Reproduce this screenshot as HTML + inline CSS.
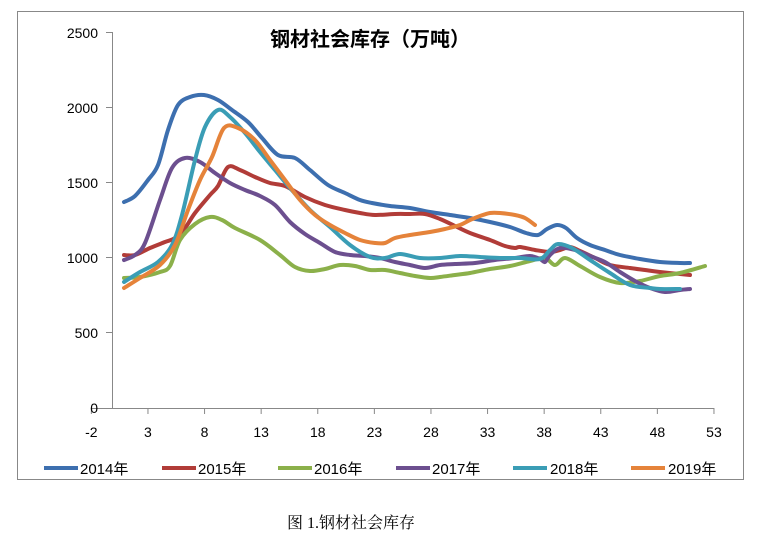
<!DOCTYPE html>
<html><head><meta charset="utf-8"><style>
body{margin:0;background:#fff;width:762px;height:536px;overflow:hidden}
svg{display:block}
</style></head><body>
<svg width="762" height="536" xmlns="http://www.w3.org/2000/svg" font-family="Liberation Sans, Noto Sans CJK SC, sans-serif">
<rect x="17.5" y="11.5" width="726" height="468" fill="#fff" stroke="#888" stroke-width="1"/>
<text x="270" y="46" font-size="20" font-weight="bold" font-family="Noto Sans CJK SC, sans-serif" fill="#000">钢材社会库存（万吨）</text>
<g stroke="#888" stroke-width="1" fill="none">
<line x1="112.5" y1="32" x2="112.5" y2="408"/>
<line x1="106" y1="32.5" x2="112" y2="32.5"/>
<line x1="106" y1="107.5" x2="112" y2="107.5"/>
<line x1="106" y1="182.5" x2="112" y2="182.5"/>
<line x1="106" y1="257.5" x2="112" y2="257.5"/>
<line x1="106" y1="332.5" x2="112" y2="332.5"/>
<line x1="92" y1="408.5" x2="714" y2="408.5"/>
<g id="t"></g>
</g>
<g font-size="14" fill="#000" text-anchor="end">
<text x="98" y="38">2500</text><text x="98" y="113">2000</text><text x="98" y="188">1500</text>
<text x="98" y="263">1000</text><text x="98" y="338">500</text><text x="98" y="413">0</text>
</g>
<g font-size="14" fill="#000" text-anchor="middle" id="xl"></g>
<g id="series" fill="none" stroke-width="4" stroke-linecap="round" stroke-linejoin="round"></g>
<g font-size="15" fill="#000">
<line x1="44" y1="468" x2="78" y2="468" stroke="#3d6faf" stroke-width="4"/><text x="80" y="474">2014年</text>
<line x1="162" y1="468" x2="196" y2="468" stroke="#b13c38" stroke-width="4"/><text x="198" y="474">2015年</text>
<line x1="278" y1="468" x2="312" y2="468" stroke="#8bb04a" stroke-width="4"/><text x="314" y="474">2016年</text>
<line x1="396" y1="468" x2="430" y2="468" stroke="#6c4f8f" stroke-width="4"/><text x="432" y="474">2017年</text>
<line x1="513" y1="468" x2="547" y2="468" stroke="#3a9db5" stroke-width="4"/><text x="550" y="474">2018年</text>
<line x1="631" y1="468" x2="665" y2="468" stroke="#e5833a" stroke-width="4"/><text x="668" y="474">2019年</text>
</g>
<text x="287" y="528" font-size="16" font-family="Liberation Serif, Noto Serif CJK SC, serif" fill="#000">图 1.钢材社会库存</text>
</svg>
<script>
var ns="http://www.w3.org/2000/svg";
var t=document.getElementById("t"),xl=document.getElementById("xl");
for(var v=-2;v<=53;v+=5){var x=114+(v)*11.32;
 var l=document.createElementNS(ns,"line");l.setAttribute("x1",x);l.setAttribute("x2",x);l.setAttribute("y1",408);l.setAttribute("y2",414);t.appendChild(l);
 var tx=document.createElementNS(ns,"text");tx.setAttribute("x",x);tx.setAttribute("y",437);tx.textContent=v;xl.appendChild(tx);}
var S=[
["#3d6faf",[[124,202],[135,196],[148,180],[158,165],[168,130],[178,105],[190,97],[204,95],[218,100],[232,110],[248,122],[262,138],[278,155],[295,158],[310,170],[328,185],[345,193],[360,200],[372,203],[390,206],[410,208],[430,212],[450,215],[470,218],[490,222],[510,227],[526,233],[538,235],[547,229],[557,225],[566,228],[577,238],[590,245],[605,250],[620,255],[640,259],[660,262],[680,263],[690,263]]],
["#b13c38",[[124,255],[135,255],[150,248],[165,242],[175,238],[185,228],[195,213],[210,195],[218,186],[228,167],[240,170],[255,177],[270,183],[285,186],[305,197],[325,205],[345,210],[360,213],[375,215],[395,214],[410,214],[425,214],[440,219],[455,226],[470,233],[490,240],[505,246],[515,248],[520,247],[535,250],[550,252],[560,250],[570,247],[580,251],[595,258],[610,265],[630,268],[645,270],[660,272],[690,275]]],
["#8bb04a",[[124,278],[140,277],[160,272],[170,266],[180,240],[195,224],[210,217],[222,220],[235,228],[260,240],[280,255],[295,267],[310,271],[325,269],[340,265],[355,266],[370,270],[385,270],[400,273],[415,276],[430,278],[440,277],[455,275],[470,273],[490,269],[510,266],[530,261],[545,258],[555,265],[565,258],[580,266],[600,277],[620,283],[640,281],[660,276],[680,273],[705,266]]],
["#6c4f8f",[[124,260],[135,255],[145,243],[160,200],[172,168],[185,158],[200,162],[215,173],[230,183],[245,190],[260,196],[275,205],[290,222],[305,234],[320,243],[335,252],[350,255],[365,256],[380,258],[395,262],[410,265],[425,268],[440,265],[455,264],[475,263],[495,260],[515,258],[530,256],[540,259],[545,262],[550,255],[560,248],[575,250],[590,256],[605,262],[620,272],[635,281],[650,288],[665,292],[680,290],[690,289]]],
["#3a9db5",[[124,282],[140,272],[158,262],[172,245],[182,215],[195,160],[205,127],[218,110],[230,117],[245,133],[260,152],[275,170],[290,188],[310,210],[330,227],[350,245],[370,257],[385,258],[400,254],[420,258],[440,258],[460,256],[480,257],[500,258],[520,258],[540,259],[550,250],[558,244],[572,248],[590,260],[610,273],[630,285],[650,288],[660,289],[680,289]]],
["#e5833a",[[124,288],[140,278],[160,265],[175,245],[188,210],[200,180],[212,157],[224,128],[238,128],[255,140],[270,160],[285,180],[300,200],[315,215],[330,225],[345,233],[360,240],[375,243],[385,243],[395,238],[410,235],[430,232],[445,229],[460,225],[470,220],[480,216],[490,213],[500,213],[515,215],[525,218],[535,225]]]
];
var g=document.getElementById("series");
S.forEach(function(s){var p=s[1],d="M"+p[0][0]+","+p[0][1];
for(var i=0;i<p.length-1;i++){var p0=p[i-1]||p[i],p1=p[i],p2=p[i+1],p3=p[i+2]||p2;
d+=" C"+(p1[0]+(p2[0]-p0[0])/6)+","+(p1[1]+(p2[1]-p0[1])/6)+" "+(p2[0]-(p3[0]-p1[0])/6)+","+(p2[1]-(p3[1]-p1[1])/6)+" "+p2[0]+","+p2[1];}
var e=document.createElementNS(ns,"path");e.setAttribute("d",d);e.setAttribute("stroke",s[0]);g.appendChild(e);});
</script>
</body></html>
